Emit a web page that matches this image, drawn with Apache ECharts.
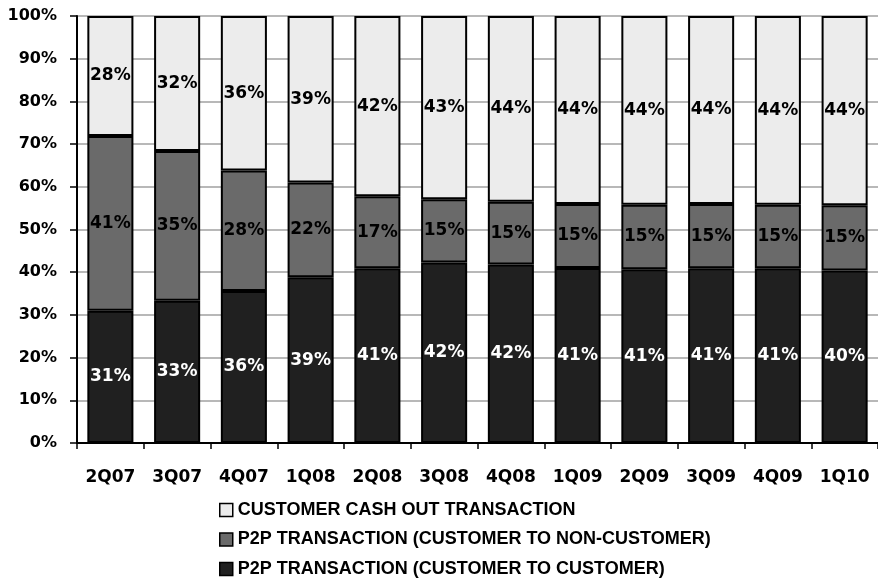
<!DOCTYPE html>
<html>
<head>
<meta charset="utf-8">
<script src="https://cdn.jsdelivr.net/npm/echarts@6/dist/echarts.min.js"></script>
<style>
html,body{margin:0;padding:0;background:#fff;}
#chart{width:878px;height:579px;}
</style>
</head>
<body>
<div id="chart"></div>
<script>
var categories = ['2Q07','3Q07','4Q07','1Q08','2Q08','3Q08','4Q08','1Q09','2Q09','3Q09','4Q09','1Q10'];
var custToCust = [31.0, 33.3, 35.6, 38.8, 40.9, 42.3, 41.8, 41.0, 40.7, 40.9, 40.9, 40.4];
var custToNonCust = [40.9, 35.1, 28.2, 22.2, 16.9, 14.8, 14.7, 15.0, 15.1, 15.1, 14.9, 15.3];
var cashOut = [28.1, 31.6, 36.2, 39.0, 42.2, 42.9, 43.5, 44.0, 44.2, 44.0, 44.2, 44.3];
var seriesNames = [
  'CUSTOMER CASH OUT TRANSACTION',
  'P2P TRANSACTION (CUSTOMER TO NON-CUSTOMER)',
  'P2P TRANSACTION (CUSTOMER TO CUSTOMER)'
];

var chart = echarts.init(document.getElementById('chart'), null, {renderer:'canvas'});
function mkSeries(name, data, color, labelColor){
  return {
    name: name, type:'bar', stack:'total', data:data,
    barCategoryGap:'31%',
    itemStyle:{color:color, borderColor:'#000', borderWidth:2},
    label:{show:true, position:'inside', color:labelColor,
      fontFamily:'DejaVu Sans', fontWeight:'bold', fontSize:17,
      formatter:function(p){return Math.round(p.value)+'%';}}
  };
}
chart.setOption({
  animation:false,
  backgroundColor:'#fff',
  grid:{left:77, right:-2, top:16, bottom:136, containLabel:false},
  xAxis:{type:'category', data:categories,
    axisLine:{lineStyle:{color:'#000', width:2}},
    axisTick:{show:true, length:6, lineStyle:{color:'#000', width:1.5}},
    axisLabel:{margin:26, color:'#000', fontFamily:'DejaVu Sans', fontWeight:'bold', fontSize:17}
  },
  yAxis:{type:'value', min:0, max:100, interval:10,
    axisLine:{show:true, lineStyle:{color:'#000', width:2}},
    axisTick:{show:true, length:7, lineStyle:{color:'#000', width:1.5}},
    axisLabel:{margin:20, color:'#000', fontFamily:'DejaVu Sans', fontWeight:'bold', fontSize:16,
      formatter:'{value}%'},
    splitLine:{show:true, lineStyle:{color:'#a0a0a0', width:1.5}}
  },
  legend:{
    orient:'vertical', left:219, top:501, height:200, itemWidth:13, itemHeight:13, itemGap:11.5,
    icon:'rect', padding:0,
    data:seriesNames,
    itemStyle:{borderColor:'#000', borderWidth:1.5},
    textStyle:{color:'#000', fontFamily:'Liberation Sans', fontWeight:'bold', fontSize:18}
  },
  series:[
    mkSeries(seriesNames[2], custToCust, '#202020', '#fff'),
    mkSeries(seriesNames[1], custToNonCust, '#6a6a6a', '#000'),
    mkSeries(seriesNames[0], cashOut, '#ececec', '#000')
  ]
});
</script>
</body>
</html>
